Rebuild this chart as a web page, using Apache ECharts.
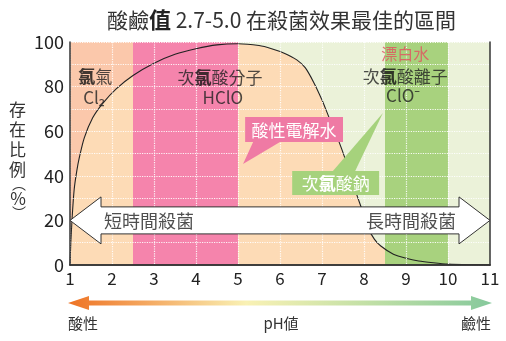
<!DOCTYPE html>
<html><head><meta charset="utf-8">
<script src="https://cdn.jsdelivr.net/npm/echarts@6/dist/echarts.min.js"></script>
<style>html,body{margin:0;padding:0;background:#fff}#c{width:506px;height:341px}</style>
</head><body><div id="c"></div>
<script>
const FONT = '"Noto Sans CJK TC","Noto Sans",sans-serif';

// ---- data ----
const xMin = 1, xMax = 11;
const yMin = 0, yMax = 100;
const curvePH  = [1.0, 1.02, 1.05, 1.1, 1.16, 1.22, 1.34, 1.54, 1.78, 2.1, 2.5, 3.0, 3.5, 4.0, 4.5, 5.0, 5.5, 5.8, 6.1, 6.4, 6.6, 6.8, 7.0, 7.15, 7.35, 7.6, 7.8, 7.95, 8.1, 8.25, 8.4, 8.7, 9.0, 9.3, 9.65, 10.0, 10.5, 11.0];
const curveVal = [0, 10, 21, 34, 42, 48, 57, 66, 72.5, 79, 85, 90.5, 94.5, 97, 98.7, 99.2, 98.4, 97, 95, 92, 88.5, 82, 74, 67, 58, 45, 33, 25, 16.5, 11.5, 8.5, 4.8, 3, 1.8, 1, 0.4, 0.1, 0];
const bgZones  = [[1, 2.5], [2.5, 11]];          // above-curve regions (Cl2 / ClO-)
const topZones = [[2.5, 5], [8.5, 10]];          // highlighted pH bands
const arrowFrom = 1, arrowTo = 11, arrowLevel = 20;
const labelText = ['{b|氯}氣', 'Cl₂', '次{b|氯}酸分子', 'HClO', '漂白水', '次{b|氯}酸離子', 'ClO⁻', '短時間殺菌', '長時間殺菌'];
const labelPH   = [1.6, 1.57, 4.57, 4.64, 8.98, 8.98, 8.93, 2.88, 9.12];
const labelVal  = [84.3, 74.9, 83.9, 75.3, 94.6, 84.3, 75.8, 19.7, 19.7];
const calloutText = ['酸性電解水', '次{b|氯}酸鈉'];
const calloutBox  = [[5.17, 55.2, 7.5, 66.4], [6.29, 31.4, 8.36, 42.2]];   // pH0, val0, pH1, val1
const calloutTip  = [[5.12, 45.3], [8.45, 68.2]];
const calloutBase = [[5.36, 6.0, 55.2], [7.26, 7.79, 42.2]];
const scaleLabels = ['酸性', 'pH値', '鹼性'];
const titleParts = ['酸鹼', '值', ' 2.7-5.0 在殺菌效果最佳的區間'];

// ---- styles ----
const C_SALMON = '#FBC8AB', C_PEACH = '#FDDBB6', C_PINK = '#F584AC', C_GREEN = '#A8D27E', C_LGREEN = '#EBF2D9';
const bgColors = [C_SALMON, C_LGREEN];
const topColors = [C_PINK, C_GREEN];
const calloutColors = ['#EF7AA4', '#A6D27C'];
const labelColors = ['#222', '#222', '#222', '#222', '#E2505F', '#222', '#222', '#222', '#222'];

const curve = curvePH.map((x, i) => [x, curveVal[i]]);

function zoneRender(colors) {
  return function (params, api) {
    const p0 = api.coord([api.value(0), yMax]);
    const p1 = api.coord([api.value(1), yMin]);
    return { type: 'rect', shape: { x: p0[0], y: p0[1], width: p1[0] - p0[0], height: p1[1] - p0[1] },
      style: { fill: colors[params.dataIndex] } };
  };
}

const chart = echarts.init(document.getElementById('c'));
const axisLineStyle = { show: true, lineStyle: { color: '#333', width: 1.5 } };
chart.setOption({
  backgroundColor: '#fff',
  animation: false,
  textStyle: { fontFamily: FONT },
  title: {
    text: '{n|' + titleParts[0] + '}{b|' + titleParts[1] + '}{n|' + titleParts[2] + '}',
    left: 102, top: 4,
    textStyle: { fontWeight: 'normal', rich: {
      n: { fontFamily: FONT, fontSize: 21, fontWeight: 'normal', color: '#333' },
      b: { fontFamily: FONT, fontSize: 22, fontWeight: 'bold', color: '#222' }
    } }
  },
  grid: { left: 70, right: 16, top: 42, bottom: 76, containLabel: false },
  xAxis: [{
    type: 'value', min: xMin, max: xMax, interval: 1, z: 5,
    axisLine: axisLineStyle, axisTick: { show: false },
    axisLabel: { fontSize: 17, color: '#222', margin: 5, fontFamily: FONT },
    splitLine: { show: true, lineStyle: { color: 'rgba(255,255,255,0.9)', type: 'dotted', width: 1.2 } }
  }, {
    type: 'value', min: xMin, max: xMax, position: 'top', z: 5,
    axisLine: axisLineStyle, axisTick: { show: false }, axisLabel: { show: false }, splitLine: { show: false }
  }],
  yAxis: [{
    type: 'value', min: yMin, max: yMax, interval: 10, z: 5,
    axisLine: axisLineStyle, axisTick: { show: false },
    axisLabel: { fontSize: 18, color: '#222', margin: 6, fontFamily: FONT,
      formatter: v => (v % 20 === 0 ? String(v) : '') },
    splitLine: { show: true, lineStyle: { color: 'rgba(255,255,255,0.9)', type: 'dotted', width: 1.2 } },
    name: '{a|存}\n{a|在}\n{a|比}\n{a|例}\n{p|︵}\n{a|%}\n{p|︶}',
    nameLocation: 'middle', nameRotate: 0, nameGap: 44,
    nameTextStyle: { padding: [10, 0, 0, 0], rich: {
      a: { fontFamily: FONT, fontSize: 17, color: '#333', lineHeight: 20 },
      p: { fontFamily: FONT, fontSize: 14, color: '#333', lineHeight: 9 }
    } }
  }, {
    type: 'value', min: yMin, max: yMax, position: 'right', z: 5,
    axisLine: axisLineStyle, axisTick: { show: false }, axisLabel: { show: false }, splitLine: { show: false }
  }],
  series: [
    { type: 'custom', name: 'bg', z: 1, data: bgZones, renderItem: zoneRender(bgColors), silent: true },
    { type: 'line', name: 'area', z: 2, data: curve, smooth: 0.2, symbol: 'none',
      lineStyle: { width: 0 }, areaStyle: { color: C_PEACH, opacity: 1 }, silent: true },
    { type: 'custom', name: 'bands', z: 3, data: topZones, renderItem: zoneRender(topColors), silent: true },
    { type: 'line', name: 'curve', z: 4, data: curve, smooth: 0.2, symbol: 'none',
      lineStyle: { width: 1.1, color: '#222' }, silent: true },
    { type: 'custom', name: 'arrow', z: 6, data: [[arrowFrom, arrowLevel, arrowTo]], silent: true,
      renderItem: function (params, api) {
        const a = api.coord([api.value(0), api.value(1)]);
        const b = api.coord([api.value(2), api.value(1)]);
        const H = 31, hh = 23.5, sh = 13.5, y = a[1];
        const pts = [[a[0], y], [a[0] + H, y - hh], [a[0] + H, y - sh], [b[0] - H, y - sh], [b[0] - H, y - hh], [b[0], y],
          [b[0] - H, y + hh], [b[0] - H, y + sh], [a[0] + H, y + sh], [a[0] + H, y + hh]];
        return { type: 'polygon', shape: { points: pts }, style: { fill: '#fff', stroke: '#333', lineWidth: 1 } };
      } },
    { type: 'custom', name: 'callouts', z: 7, data: calloutText.map((t, i) => [i]), silent: true,
      renderItem: function (params, api) {
        const i = params.dataIndex;
        const bx = calloutBox[i];
        const p0 = api.coord([bx[0], bx[3]]), p1 = api.coord([bx[2], bx[1]]);
        const tip = api.coord(calloutTip[i]);
        const b0 = api.coord([calloutBase[i][0], calloutBase[i][2]]);
        const b1 = api.coord([calloutBase[i][1], calloutBase[i][2]]);
        const col = calloutColors[i];
        return { type: 'group', children: [
          { type: 'polygon', shape: { points: [tip, b0, b1] }, style: { fill: col } },
          { type: 'rect', shape: { x: p0[0], y: p0[1], width: p1[0] - p0[0], height: p1[1] - p0[1] }, style: { fill: col } },
          { type: 'text', x: (p0[0] + p1[0]) / 2, y: (p0[1] + p1[1]) / 2 + 1,
            style: { text: calloutText[i], fill: '#fff', align: 'center', verticalAlign: 'middle',
              font: '17px ' + FONT,
              rich: { b: { fill: '#fff', fontWeight: 900, fontSize: 17, fontFamily: FONT } } } }
        ] };
      } },
    { type: 'scatter', name: 'labels', z: 8, symbolSize: 1, itemStyle: { color: 'transparent' }, silent: true,
      data: labelText.map((t, i) => ({ value: [labelPH[i], labelVal[i]],
        label: { show: true, position: 'inside', formatter: t, color: labelColors[i],
          fontSize: (i === 4 ? 16 : (i >= 7 ? 18 : 17)), fontFamily: FONT,
          rich: { b: { fontWeight: 900, fontSize: 17, color: '#111', fontFamily: FONT } } } })) },
    { type: 'custom', name: 'phscale', z: 6, data: [[xMin, yMin, xMax]], silent: true,
      renderItem: function (params, api) {
        const a = api.coord([api.value(0), api.value(1)]);
        const b = api.coord([api.value(2), api.value(1)]);
        const y = a[1] + 38, x0 = a[0] - 2, x1 = b[0] + 2, H = 21, hh = 7, sh = 2.5;
        const pts = [[x0, y], [x0 + H, y - hh], [x0 + H, y - sh], [x1 - H, y - sh], [x1 - H, y - hh], [x1, y],
          [x1 - H, y + hh], [x1 - H, y + sh], [x0 + H, y + sh], [x0 + H, y + hh]];
        const grad = new echarts.graphic.LinearGradient(0, 0, 1, 0, [
          { offset: 0, color: '#EE7325' }, { offset: 0.18, color: '#F4A65E' }, { offset: 0.42, color: '#F9F1B4' },
          { offset: 0.7, color: '#C3E0A6' }, { offset: 1, color: '#86C99C' }]);
        const ly = y + 20;
        return { type: 'group', children: [
          { type: 'polygon', shape: { points: pts }, style: { fill: grad } },
          { type: 'text', x: a[0] + 13, y: ly, style: { text: scaleLabels[0], fill: '#333', align: 'center', verticalAlign: 'middle', font: '15px ' + FONT } },
          { type: 'text', x: (a[0] + b[0]) / 2 + 1, y: ly, style: { text: scaleLabels[1], fill: '#333', align: 'center', verticalAlign: 'middle', font: '15px ' + FONT } },
          { type: 'text', x: b[0] - 14, y: ly, style: { text: scaleLabels[2], fill: '#333', align: 'center', verticalAlign: 'middle', font: '15px ' + FONT } }
        ] };
      } }
  ]
});
</script>
</body></html>
